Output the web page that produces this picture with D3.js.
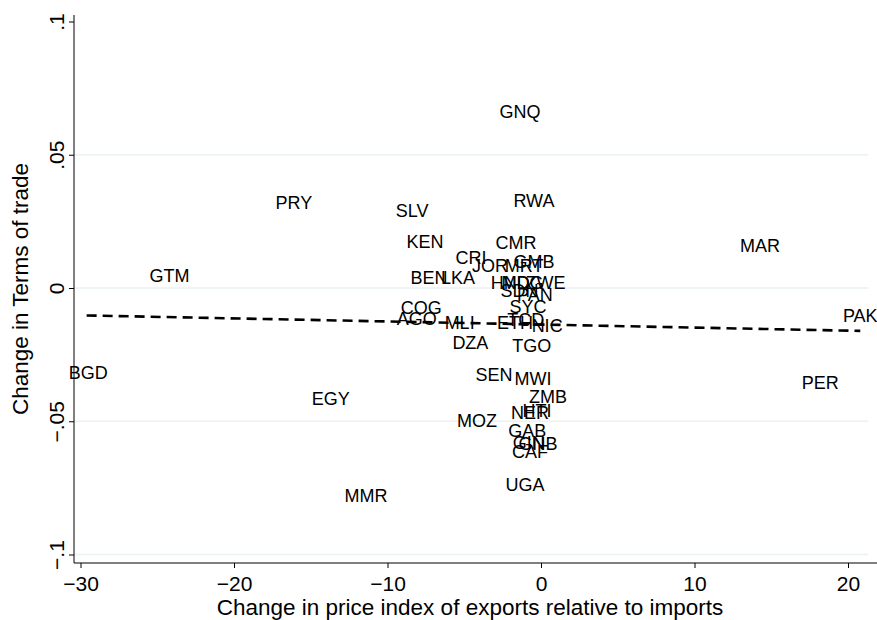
<!DOCTYPE html>
<html>
<head>
<meta charset="utf-8">
<script src="https://cdn.jsdelivr.net/npm/d3@7"></script>
<style>
  body { margin: 0; background: #fff; }
  svg { font-family: "Liberation Sans", Arial, sans-serif; }
</style>
</head>
<body>
<svg id="chart" width="877" height="620"></svg>
<script>
// country labels with (price change, terms of trade change)
const countries = ['GNQ','PRY','SLV','RWA','KEN','CMR','MAR','GTM','CRI','GMB','JOR','MRT',
    'BEN','LKA','HND','MDG','ZWE','SDN','PAN','SYC','COG','AGO','MLI','ETH','TCD','NIC',
    'DZA','TGO','BGD','SEN','MWI','PER','ZMB','EGY','NER','HTI','MOZ','GAB','GIN','GNB',
    'CAF','UGA','MMR','PAK'];
const priceChange = [-1.37, -16.1, -8.4, -0.46, -7.56, -1.63, 14.27, -24.2, -4.56, -0.46, -3.32, -1.1,
    -7.3, -5.4, -2.0, -1.2, 0.3, -1.4, -0.4, -0.85, -7.8, -8.1, -5.3, -1.7, -1.0, 0.4,
    -4.6, -0.6, -29.5, -3.06, -0.52, 18.2, 0.46, -13.7, -0.72, -0.26, -4.17, -0.9, -0.8, -0.2,
    -0.72, -1.04, -11.4, 20.8];
const totChange = [0.0664, 0.0319, 0.0289, 0.033, 0.0173, 0.0169, 0.0158, 0.0045, 0.0113, 0.0101, 0.0086, 0.0083,
    0.0041, 0.0038, 0.0019, 0.0019, 0.0019, -0.0008, -0.0026, -0.0071, -0.0075, -0.0116, -0.0128, -0.0128, -0.012, -0.0139,
    -0.0206, -0.0214, -0.0319, -0.0326, -0.0341, -0.0353, -0.0409, -0.0416, -0.0469, -0.0461, -0.0499, -0.0533, -0.058, -0.0585,
    -0.0615, -0.0739, -0.078, -0.0105];

// fitted line endpoints
const fitX = [-29.6, 20.8];
const fitY = [-0.0103, -0.0161];

const xTicks = [-30, -20, -10, 0, 10, 20];
const xTickLabels = ['\u221230', '\u221220', '\u221210', '0', '10', '20'];
const yTicks = [0.1, 0.05, 0, -0.05, -0.1];
const yTickLabels = ['.1', '.05', '0', '\u2212.05', '\u2212.1'];
const gridTicks = [0.05, 0, -0.05, -0.1];

const svg = d3.select('#chart');

const x = d3.scaleLinear().domain([-30, 20]).range([80.5, 848]);
const y = d3.scaleLinear().domain([-0.1, 0.1]).range([554.5, 21.5]);

const axisX = 74, axisY = 563;
const axisFont = 21;

// grid
svg.append('g')
    .selectAll('line')
    .data(gridTicks)
    .enter()
        .append('line')
        .attr('x1', axisX)
        .attr('x2', 868)
        .attr('y1', d => y(d))
        .attr('y2', d => y(d))
        .attr('stroke', '#eaf2f3')
        .attr('stroke-width', 1.5);

// labels as markers
svg.append('g')
    .selectAll('text')
    .data(countries.map((c, i) => ({ c, px: priceChange[i], t: totChange[i] })))
    .enter()
        .append('text')
        .attr('x', d => x(d.px))
        .attr('y', d => y(d.t))
        .attr('dy', '0.36em')
        .attr('text-anchor', 'middle')
        .attr('font-size', 18)
        .attr('fill', '#000')
        .text(d => d.c);

// fitted line
svg.append('path')
    .datum(fitX.map((v, i) => [v, fitY[i]]))
    .attr('d', d3.line().x(d => x(d[0])).y(d => y(d[1])))
    .attr('fill', 'none')
    .attr('stroke', '#000')
    .attr('stroke-width', 2.6)
    .attr('stroke-dasharray', '10,6');

// y axis
const gy = svg.append('g').attr('transform', `translate(${axisX},0)`);
gy.call(d3.axisLeft(y)
    .tickValues(yTicks)
    .tickSize(5)
    .tickFormat((d, i) => yTickLabels[i]));
gy.select('.domain').remove();
gy.append('line')
    .attr('x1', 0).attr('x2', 0)
    .attr('y1', 15).attr('y2', axisY)
    .attr('stroke', '#000');
gy.selectAll('.tick line').attr('stroke', '#000');
gy.selectAll('.tick text')
    .attr('font-size', axisFont)
    .attr('font-family', '"Liberation Sans", Arial, sans-serif')
    .attr('fill', '#000')
    .attr('text-anchor', 'middle')
    .attr('transform', 'rotate(-90)')
    .attr('x', 0)
    .attr('dy', 0)
    .attr('y', -10);

// x axis
const gx = svg.append('g').attr('transform', `translate(0,${axisY})`);
gx.call(d3.axisBottom(x)
    .tickValues(xTicks)
    .tickSize(5)
    .tickFormat((d, i) => xTickLabels[i]));
gx.select('.domain').remove();
gx.append('line')
    .attr('x1', axisX).attr('x2', 877)
    .attr('y1', 0).attr('y2', 0)
    .attr('stroke', '#000');
gx.selectAll('.tick line').attr('stroke', '#000');
gx.selectAll('.tick text')
    .attr('font-size', axisFont)
    .attr('font-family', '"Liberation Sans", Arial, sans-serif')
    .attr('fill', '#000')
    .attr('dy', 0)
    .attr('y', 28);

// axis titles
svg.append('text')
    .attr('x', 470)
    .attr('y', 615)
    .attr('text-anchor', 'middle')
    .attr('font-size', 22.5)
    .text('Change in price index of exports relative to imports');

svg.append('text')
    .attr('transform', 'translate(28,289) rotate(-90)')
    .attr('text-anchor', 'middle')
    .attr('font-size', 22.5)
    .text('Change in Terms of trade');
</script>
</body>
</html>
